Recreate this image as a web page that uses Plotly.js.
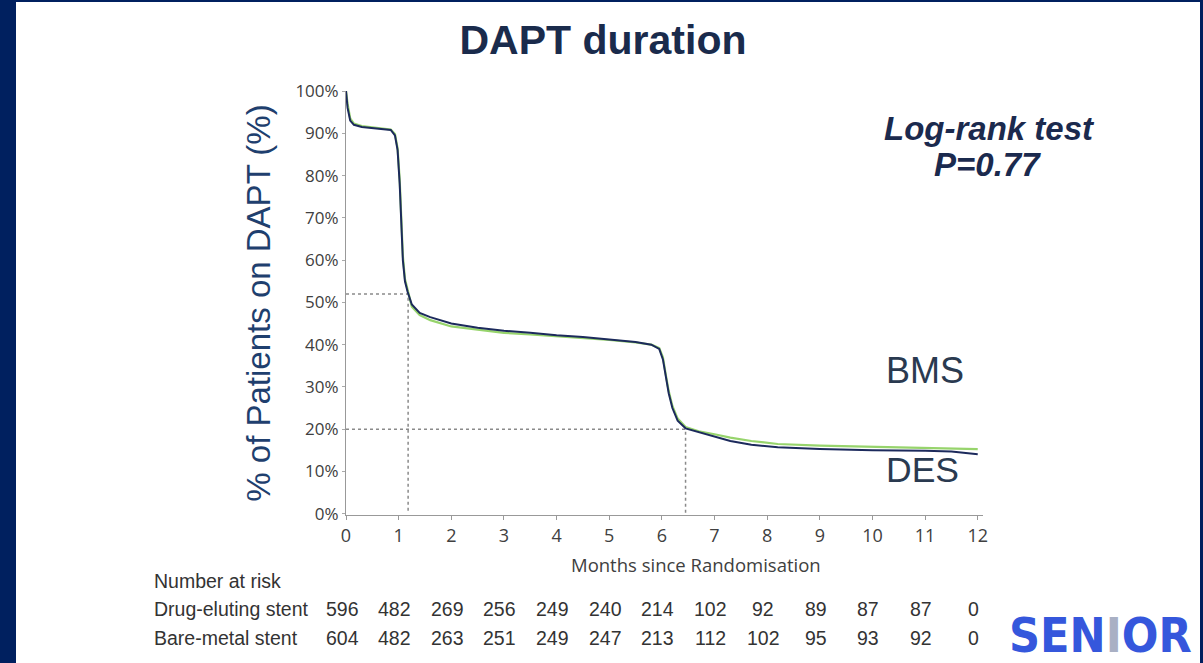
<!DOCTYPE html>
<html>
<head>
<meta charset="utf-8">
<script src="https://cdn.plot.ly/plotly-3.0.1.min.js"></script>
<style>
html,body{margin:0;padding:0;background:#fff;}
#chart{width:1203px;height:663px;}
</style>
</head>
<body>
<div id="chart"></div>
<script>
// ---- data ----
const months = [0, 0.03, 0.08, 0.15, 0.3, 0.6, 0.85, 0.93, 0.98, 1.02, 1.05, 1.08, 1.12, 1.17, 1.25, 1.4, 1.6, 2.0, 2.5, 3.0, 3.5, 4.0, 4.5, 5.0, 5.5, 5.8, 5.95, 6.02, 6.08, 6.13, 6.2, 6.3, 6.45, 6.7, 7.0, 7.3, 7.7, 8.2, 9.0, 10.0, 11.0, 11.5, 12.0];
const desPct = [100, 96, 93, 92, 91.5, 91.2, 90.8, 89.5, 86, 78, 67, 60, 55, 52.5, 49.5, 47.5, 46.5, 45, 44, 43.3, 42.8, 42.2, 41.8, 41.2, 40.6, 40.0, 39.0, 36.5, 32, 28.5, 25, 22, 20.2, 19.3, 18.2, 17.2, 16.3, 15.7, 15.3, 15.0, 14.9, 14.7, 14.1];
const bmsPct = [100, 97, 93.5, 92.3, 91.7, 91.3, 90.9, 89.8, 86.5, 79, 68, 61, 55.5, 53, 49, 47, 45.8, 44.3, 43.5, 42.8, 42.4, 42, 41.6, 41.1, 40.5, 40.0, 39.2, 37, 32.5, 29, 25.5, 22.5, 20.5, 19.5, 18.8, 18.0, 17.2, 16.5, 16.1, 15.8, 15.6, 15.5, 15.3];

const refTimes = [1.18, 6.45];   // months where curves cross reference levels
const refPcts = [52, 20];        // reference levels (%)

const riskMonths = [0,1,2,3,4,5,6,7,8,9,10,11,12];
const riskDES = [596, 482, 269, 256, 249, 240, 214, 102, 92, 89, 87, 87, 0];
const riskBMS = [604, 482, 263, 251, 249, 247, 213, 112, 102, 95, 93, 92, 0];
const yTicks = [0,10,20,30,40,50,60,70,80,90,100];
const yTickLabels = ['0%','10%','20%','30%','40%','50%','60%','70%','80%','90%','100%'];
const xTicks = [0,1,2,3,4,5,6,7,8,9,10,11,12];

// ---- geometry helpers (pixel -> paper) ----
const L = 346, T = 91, W = 637, H = 424;
const R = 1203 - L - W, B = 663 - T - H;
const px = x => (x - L) / W;
const py = y => 1 - (y - T) / H;

const NAVY = '#1c2a5c', GREEN = '#97d46c', GREY = '#8a8a8a';
const ARIAL = 'Liberation Sans, Arial, sans-serif';

const traces = [];
// reference dotted lines
refTimes.forEach((t, i) => {
  traces.push({
    x: [0, t, t], y: [refPcts[i], refPcts[i], 0],
    mode: 'lines', line: {color: GREY, width: 1.5, dash: 'dot'},
    hoverinfo: 'skip', showlegend: false
  });
});
traces.push({x: months, y: bmsPct, mode: 'lines', name: 'BMS',
  line: {color: GREEN, width: 2.2}, showlegend: false});
traces.push({x: months, y: desPct, mode: 'lines', name: 'DES',
  line: {color: NAVY, width: 2}, showlegend: false});

const ann = [];
const txt = (x, y, text, size, color, extra) => Object.assign({
  xref: 'paper', yref: 'paper', x: px(x), y: py(y), text: text, showarrow: false,
  font: {family: ARIAL, size: size, color: color},
  xanchor: 'center', yanchor: 'middle'
}, extra || {});

ann.push(txt(989, 128, '<b><i>Log-rank test</i></b>', 33, '#1b2a4e'));
ann.push(txt(987, 164, '<b><i>P=0.77</i></b>', 33, '#1b2a4e'));
ann.push(txt(925, 370, 'BMS', 36, '#2a3a50'));
ann.push(txt(922, 470, 'DES', 35.5, '#2a3a50'));
ann.push(txt(696, 564, 'Months since Randomisation', 18.5, '#404040', {font: {family: 'Open Sans, sans-serif', size: 18.5, color: '#404040'}}));
ann.push(txt(152, 581, 'Number at risk', 19.5, '#333333', {xanchor: 'left'}));
ann.push(txt(152, 609, 'Drug-eluting stent', 19.5, '#333333', {xanchor: 'left'}));
ann.push(txt(152, 638, 'Bare-metal stent', 19.5, '#333333', {xanchor: 'left'}));
riskMonths.forEach((m, i) => {
  ann.push({xref: 'x', yref: 'paper', x: m, y: py(609), xshift: -4, text: String(riskDES[i]),
    showarrow: false, font: {family: ARIAL, size: 19.5, color: '#333333'}, yanchor: 'middle'});
  ann.push({xref: 'x', yref: 'paper', x: m, y: py(638), xshift: -4, text: String(riskBMS[i]),
    showarrow: false, font: {family: ARIAL, size: 19.5, color: '#333333'}, yanchor: 'middle'});
});
ann.push(txt(1100, 635, '<b>SEN<span style="color:#a9b0c4">I</span>OR</b>', 48, '#3557dc',
  {font: {family: 'DejaVu Sans Condensed, DejaVu Sans, sans-serif', size: 48, color: '#3557dc'}}));

const layout = {
  width: 1203, height: 663,
  margin: {l: L, r: R, t: T, b: B},
  paper_bgcolor: '#00205f',
  plot_bgcolor: 'rgba(0,0,0,0)',
  title: {text: '<b>DAPT duration</b>', xref: 'container', yref: 'container',
    x: 603/1203, y: 1 - 40/663, xanchor: 'center', yanchor: 'middle',
    font: {family: ARIAL, size: 41, color: '#1a2b4c'}},
  shapes: [{type: 'rect', xref: 'paper', yref: 'paper', layer: 'below',
    x0: px(16), x1: px(1200), y0: py(663), y1: py(2),
    fillcolor: '#ffffff', line: {width: 0}}],
  xaxis: {range: [0, 12.1], tickvals: xTicks, ticks: 'outside', ticklen: 4, tickcolor: '#999',
    showline: true, linecolor: '#999', linewidth: 1, showgrid: false, zeroline: false,
    tickfont: {family: 'Open Sans, sans-serif', size: 18, color: '#404040'}},
  yaxis: {range: [-0.3, 100], tickvals: yTicks, ticktext: yTickLabels, ticks: 'outside', ticklen: 3, tickcolor: '#aaa',
    showline: true, linecolor: '#999', linewidth: 1, showgrid: false, zeroline: false,
    tickfont: {family: 'Open Sans, sans-serif', size: 17, color: '#404040'},
    title: {text: '% of Patients on DAPT (%)', standoff: 14,
      font: {family: ARIAL, size: 33, color: '#1f3f6e'}}},
  annotations: ann,
  showlegend: false
};

Plotly.newPlot('chart', traces, layout, {displayModeBar: false, staticPlot: true});
</script>
</body>
</html>
